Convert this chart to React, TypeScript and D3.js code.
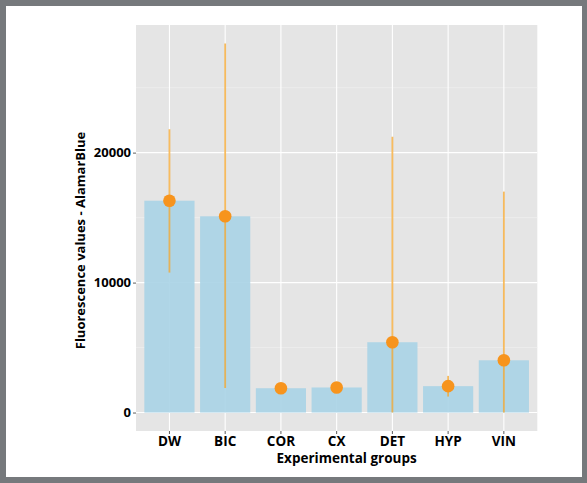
import { useEffect, useRef } from 'react';
import * as d3 from 'd3';

// AlamarBlue fluorescence per experimental group (mean with interval)
const groups = ['DW', 'BIC', 'COR', 'CX', 'DET', 'HYP', 'VIN'];
const means = [16300, 15100, 1870, 1930, 5410, 2030, 4020];
const lowerBounds = [10770, 1880, 1720, 1800, 0, 1230, 0];
const upperBounds = [21800, 28400, 2030, 2060, 21230, 2820, 17000];
const majorTicks = [0, 10000, 20000];
const minorTicks = [5000, 15000, 25000];

const WIDTH = 587;
const HEIGHT = 483;
const FONT = '"Open Sans", "Noto Sans", sans-serif';

export default function App() {
  const svgRef = useRef<SVGSVGElement>(null);

  useEffect(() => {
    if (!svgRef.current) return;
    const svg = d3.select(svgRef.current);
    svg.selectAll('*').remove();

    const panel = { left: 136, right: 537.3, top: 25, bottom: 431 };

    // outer grey frame
    svg.append('rect').attr('width', WIDTH).attr('height', HEIGHT).attr('fill', '#76797c');
    svg.append('rect')
      .attr('x', 6).attr('y', 6)
      .attr('width', 576).attr('height', 471)
      .attr('fill', '#ffffff');

    const data = groups.map((g, i) => ({
      group: g,
      mean: means[i],
      lo: lowerBounds[i],
      hi: upperBounds[i],
    }));

    const x = d3.scaleBand<string>()
      .domain(groups)
      .range([panel.left, panel.right])
      .paddingInner(0.1)
      .paddingOuter(0.15);

    // ggplot-style 5% expansion around 0..max
    const yMax = d3.max(upperBounds) || 0;
    const pad = yMax * 0.05;
    const y = d3.scaleLinear()
      .domain([-pad, yMax + pad])
      .range([panel.bottom, panel.top]);

    const cx = (g: string) => (x(g) || 0) + x.bandwidth() / 2;

    // panel background
    svg.append('rect')
      .attr('x', panel.left).attr('y', panel.top)
      .attr('width', panel.right - panel.left)
      .attr('height', panel.bottom - panel.top)
      .attr('fill', '#e5e5e5');

    const grid = svg.append('g');
    grid.selectAll('.minor')
      .data(minorTicks)
      .enter().append('line')
      .attr('x1', panel.left).attr('x2', panel.right)
      .attr('y1', d => y(d)).attr('y2', d => y(d))
      .attr('stroke', '#f2f2f2').attr('stroke-width', 0.6);
    grid.selectAll('.major')
      .data(majorTicks)
      .enter().append('line')
      .attr('x1', panel.left).attr('x2', panel.right)
      .attr('y1', d => y(d)).attr('y2', d => y(d))
      .attr('stroke', '#ffffff').attr('stroke-width', 1.1);
    grid.selectAll('.vgrid')
      .data(groups)
      .enter().append('line')
      .attr('x1', d => cx(d)).attr('x2', d => cx(d))
      .attr('y1', panel.top).attr('y2', panel.bottom)
      .attr('stroke', '#ffffff').attr('stroke-width', 1.1);

    // bars
    svg.append('g').selectAll('rect')
      .data(data)
      .enter().append('rect')
      .attr('x', d => x(d.group) || 0)
      .attr('width', x.bandwidth())
      .attr('y', d => y(d.mean))
      .attr('height', d => y(0) - y(d.mean))
      .attr('fill', '#a8d3e6')
      .attr('fill-opacity', 0.9);

    // intervals
    svg.append('g').selectAll('line')
      .data(data)
      .enter().append('line')
      .attr('x1', d => cx(d.group)).attr('x2', d => cx(d.group))
      .attr('y1', d => y(d.lo)).attr('y2', d => y(d.hi))
      .attr('stroke', '#f5a52a')
      .attr('stroke-opacity', 0.75)
      .attr('stroke-width', 1.8);

    // means
    svg.append('g').selectAll('circle')
      .data(data)
      .enter().append('circle')
      .attr('cx', d => cx(d.group))
      .attr('cy', d => y(d.mean))
      .attr('r', 6.3)
      .attr('fill', '#f7941d');

    // y axis
    const yAxis = svg.append('g')
      .attr('transform', `translate(${panel.left},0)`)
      .call(d3.axisLeft(y).tickValues(majorTicks).tickSize(3).tickPadding(2).tickFormat(d => String(d)));
    yAxis.select('.domain').remove();
    yAxis.selectAll('line').attr('stroke', '#333333').attr('stroke-width', 0.8);
    yAxis.selectAll('text')
      .attr('fill', '#000000')
      .style('font-family', FONT)
      .style('font-size', '13px')
      .style('font-weight', '700');

    // x axis
    const xAxis = svg.append('g')
      .attr('transform', `translate(0,${panel.bottom})`)
      .call(d3.axisBottom(x).tickSize(3).tickPadding(2));
    xAxis.select('.domain').remove();
    xAxis.selectAll('line').attr('stroke', '#333333').attr('stroke-width', 0.8);
    xAxis.selectAll('text')
      .attr('fill', '#000000')
      .style('font-family', FONT)
      .style('font-size', '13.5px')
      .style('font-weight', '700');

    // axis titles
    svg.append('text')
      .attr('x', 346.6)
      .attr('y', 463)
      .attr('text-anchor', 'middle')
      .attr('fill', '#000000')
      .style('font-family', FONT)
      .style('font-size', '13.5px')
      .style('font-weight', '700')
      .text('Experimental groups');

    svg.append('text')
      .attr('transform', 'translate(85,240.5) rotate(-90)')
      .attr('text-anchor', 'middle')
      .attr('fill', '#000000')
      .style('font-family', FONT)
      .style('font-size', '13px')
      .style('font-weight', '700')
      .text('Fluorescence values - AlamarBlue');
  }, []);

  return (
    <svg
      ref={svgRef}
      width={WIDTH}
      height={HEIGHT}
      style={{ position: 'absolute', left: 0, top: 0, display: 'block' }}
    />
  );
}
